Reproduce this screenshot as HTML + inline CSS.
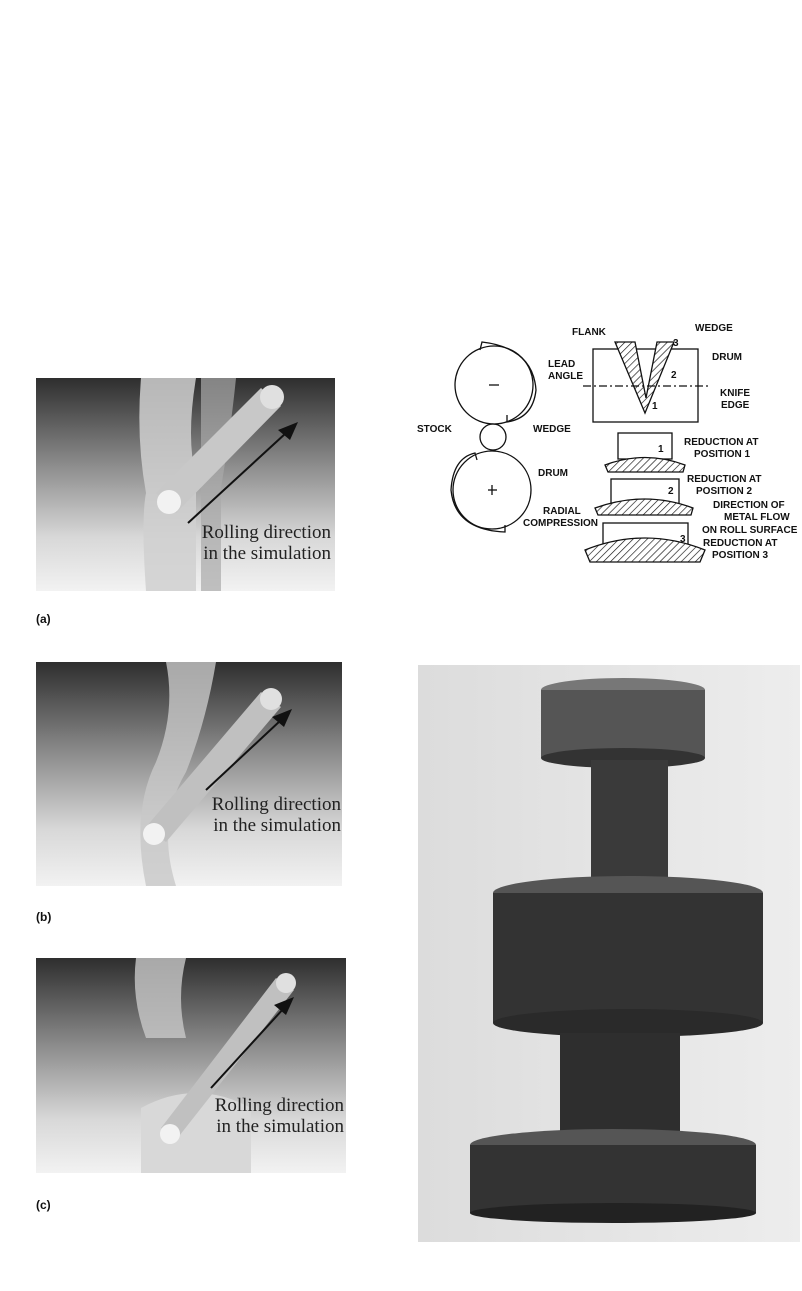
<!DOCTYPE html>
<html><head><style>
body{margin:0;width:802px;height:1291px;background:#fff;position:relative;font-family:"Liberation Sans",sans-serif;overflow:hidden}
.p{position:absolute;background:linear-gradient(#2e2e2e 0%,#8a8a8a 40%,#d8d8d8 75%,#f2f2f2 100%)}
.lab{position:absolute;font-size:12px;font-weight:bold;color:#111}
.t{position:absolute;font-family:"Liberation Serif",serif;font-size:19px;color:#222;line-height:21px;text-align:right}
svg text{font-family:"Liberation Sans",sans-serif;font-weight:bold;font-size:10px;fill:#111}
</style></head><body>

<div class="p" style="left:36px;top:378px;width:299px;height:213px">
<svg width="299" height="213" style="position:absolute;left:0;top:0">
<path d="M105 0 L160 0 Q150 60 160 100 L160 213 L110 213 Q105 140 110 115 Q100 60 105 0Z" fill="#d0d0d0" opacity=".85"/>
<path d="M165 0 L200 0 Q195 50 185 110 L185 213 L165 213Z" fill="#aaa" opacity=".7"/>
<path d="M120 115 L225 10 L245 28 L140 135Z" fill="#c8c8c8"/>
<circle cx="236" cy="19" r="12" fill="#e0e0e0"/>
<circle cx="133" cy="124" r="12" fill="#f2f2f2"/>
<line x1="152" y1="145" x2="250" y2="55" stroke="#111" stroke-width="2"/>
<polygon points="262,44 242,52 254,62" fill="#111"/>
</svg>
<div class="t" style="left:120px;top:144px;width:175px">Rolling direction<br>in the simulation</div>
</div>
<div class="lab" style="left:36px;top:612px">(a)</div>

<div class="p" style="left:36px;top:662px;width:306px;height:224px">
<svg width="306" height="224" style="position:absolute;left:0;top:0">
<path d="M130 0 L180 0 Q170 60 150 110 Q120 160 140 224 L110 224 Q95 150 120 100 Q140 50 130 0Z" fill="#c8c8c8" opacity=".8"/>
<path d="M110 165 L225 30 L245 45 L130 180Z" fill="#c0c0c0"/>
<circle cx="235" cy="37" r="11" fill="#e0e0e0"/>
<circle cx="118" cy="172" r="11" fill="#f2f2f2"/>
<line x1="170" y1="128" x2="245" y2="58" stroke="#111" stroke-width="2"/>
<polygon points="256,47 236,55 248,65" fill="#111"/>
</svg>
<div class="t" style="left:130px;top:132px;width:175px">Rolling direction<br>in the simulation</div>
</div>
<div class="lab" style="left:36px;top:910px">(b)</div>

<div class="p" style="left:36px;top:958px;width:310px;height:215px">
<svg width="310" height="215" style="position:absolute;left:0;top:0">
<path d="M100 0 L150 0 Q140 40 150 80 L110 80 Q95 40 100 0Z" fill="#c8c8c8" opacity=".8"/>
<path d="M105 150 Q160 120 215 150 L215 215 L105 215Z" fill="#d8d8d8"/>
<path d="M125 170 L240 20 L258 32 L140 182Z" fill="#c0c0c0"/>
<circle cx="250" cy="25" r="10" fill="#e0e0e0"/>
<circle cx="134" cy="176" r="10" fill="#f2f2f2"/>
<line x1="175" y1="130" x2="248" y2="50" stroke="#111" stroke-width="2"/>
<polygon points="258,39 238,47 250,57" fill="#111"/>
</svg>
<div class="t" style="left:130px;top:137px;width:178px">Rolling direction<br>in the simulation</div>
</div>
<div class="lab" style="left:36px;top:1198px">(c)</div>

<!-- Line diagram -->
<svg width="397" height="300" style="position:absolute;left:405px;top:300px">
<defs>
<pattern id="h" width="5" height="5" patternUnits="userSpaceOnUse" patternTransform="rotate(45)">
<rect width="5" height="5" fill="#fff"/><line x1="0" y1="0" x2="0" y2="5" stroke="#111" stroke-width="1.3"/></pattern>
</defs>
<g fill="none" stroke="#111" stroke-width="1.3">
<circle cx="89" cy="85" r="39"/>
<path d="M75 50 L77 42 Q128 48 131 90 Q128 118 102 122 L102 115"/>
<circle cx="88" cy="137" r="13"/>
<circle cx="87" cy="190" r="39"/>
<path d="M100 225 L100 232 Q50 230 46 190 Q48 158 70 153 L72 160"/>
<line x1="84" y1="85" x2="94" y2="85"/>
<line x1="83" y1="190" x2="92" y2="190"/><line x1="87" y1="185" x2="87" y2="195"/>
<rect x="188" y="49" width="105" height="73"/>
<path d="M210 42 L230 42 L241 98 L252 42 L269 42 L240 113Z" fill="url(#h)"/>
<line x1="178" y1="86" x2="305" y2="86" stroke-dasharray="8,3,2,3"/>
<rect x="213" y="133" width="54" height="26" fill="#fff"/>
<path d="M200 165 Q240 150 280 165 L278 172 L203 172Z" fill="url(#h)"/>
<rect x="206" y="179" width="68" height="26" fill="#fff"/>
<path d="M190 208 Q240 190 288 208 L286 215 L193 215Z" fill="url(#h)"/>
<rect x="198" y="223" width="85" height="25" fill="#fff"/>
<path d="M180 250 Q240 226 300 250 L295 262 L185 262Z" fill="url(#h)"/>
</g>
<g fill="#111">
<text x="167" y="35">FLANK</text><text x="290" y="31">WEDGE</text><text x="268" y="46">3</text>
<text x="307" y="60">DRUM</text><text x="143" y="67">LEAD</text><text x="143" y="79">ANGLE</text>
<text x="266" y="78">2</text><text x="315" y="96">KNIFE</text><text x="316" y="108">EDGE</text>
<text x="247" y="109">1</text><text x="12" y="132">STOCK</text><text x="128" y="132">WEDGE</text>
<text x="279" y="145">REDUCTION AT</text><text x="289" y="157">POSITION 1</text><text x="253" y="152">1</text>
<text x="133" y="176">DRUM</text><text x="282" y="182">REDUCTION AT</text><text x="291" y="194">POSITION 2</text>
<text x="263" y="194">2</text><text x="308" y="208">DIRECTION OF</text><text x="319" y="220">METAL FLOW</text>
<text x="297" y="233">ON ROLL SURFACE</text><text x="138" y="214">RADIAL</text><text x="118" y="226">COMPRESSION</text>
<text x="275" y="242">3</text><text x="298" y="246">REDUCTION AT</text><text x="307" y="258">POSITION 3</text>
</g>
</svg>

<!-- Photo -->
<div style="position:absolute;left:418px;top:665px;width:382px;height:577px;background:linear-gradient(90deg,#dcdcdc,#ededed)">
<svg width="382" height="577" style="position:absolute;left:0;top:0">
<ellipse cx="205" cy="25" rx="82" ry="12" fill="#777"/>
<rect x="123" y="25" width="164" height="68" fill="#555"/>
<ellipse cx="205" cy="93" rx="82" ry="10" fill="#333"/>
<rect x="173" y="95" width="77" height="125" fill="#3a3a3a"/>
<ellipse cx="210" cy="228" rx="135" ry="17" fill="#555"/>
<rect x="75" y="228" width="270" height="130" fill="#333"/>
<ellipse cx="210" cy="358" rx="135" ry="14" fill="#2a2a2a"/>
<rect x="142" y="368" width="120" height="100" fill="#2e2e2e"/>
<ellipse cx="195" cy="480" rx="143" ry="16" fill="#555"/>
<rect x="52" y="480" width="286" height="68" fill="#333"/>
<ellipse cx="195" cy="548" rx="143" ry="10" fill="#222"/>
</svg>
</div>
</body></html>
